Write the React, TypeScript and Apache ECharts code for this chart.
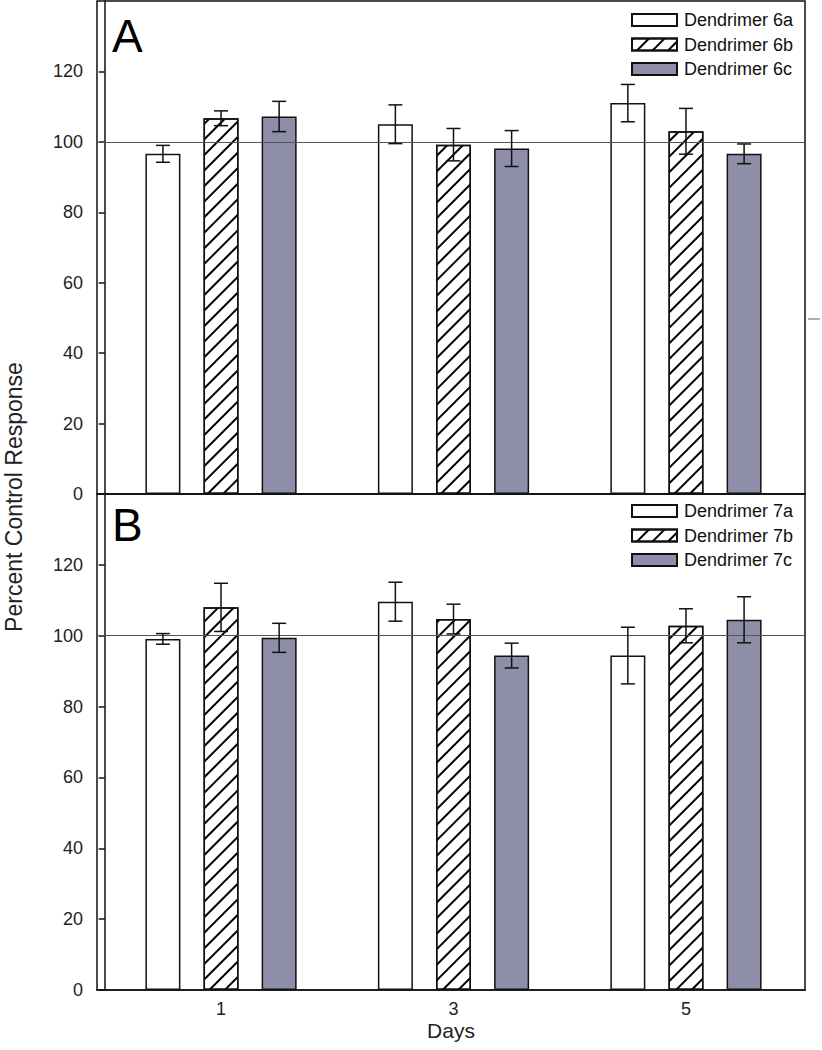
import React, { useEffect, useRef } from "react";
import * as echarts from "echarts";

// ---- data ----
const days = [1, 3, 5];
const dayTickLabels = [1, 3, 5];
const yTickMax = 140;
const yTickStep = 20;
const referenceLevel = 100;

const namesA = ["Dendrimer 6a", "Dendrimer 6b", "Dendrimer 6c"];
const namesB = ["Dendrimer 7a", "Dendrimer 7b", "Dendrimer 7c"];

const d6a = [96.6, 105.0, 111.0];
const d6aErr = [2.4, 5.5, 5.3];
const d6b = [106.7, 99.2, 103.0];
const d6bErr = [2.1, 4.6, 6.5];
const d6c = [107.2, 98.1, 96.6];
const d6cErr = [4.3, 5.1, 2.8];

const d7a = [99.1, 109.6, 94.4];
const d7aErr = [1.5, 5.5, 8.0];
const d7b = [108.0, 104.7, 102.8];
const d7bErr = [6.8, 4.2, 4.8];
const d7c = [99.4, 94.4, 104.5];
const d7cErr = [4.1, 3.5, 6.5];

// ---- layout / style ----
const FONT = "'Liberation Sans', Arial, sans-serif";
const X_MIN = -0.067;
const X_MAX = 6.024;
const OFFSETS = [-0.5, 0, 0.5];
const FILLS = ["#ffffff", "#ffffff", "#8e8ea8"];
const INK = "#111111";

const hatch = {
  symbol: "rect",
  symbolSize: 1,
  dashArrayX: [1, 0],
  dashArrayY: [1.6, 9],
  rotation: -Math.PI / 4,
  color: "#000000",
};

function barSeries(name: string, values: number[], idx: number, g: number, withLine: boolean) {
  const itemStyle: any = { color: FILLS[idx], borderColor: INK, borderWidth: 1.5 };
  if (idx === 1) itemStyle.decal = hatch;
  const s: any = {
    type: "bar",
    name,
    xAxisIndex: g,
    yAxisIndex: g,
    barWidth: 35,
    barGap: "-100%",
    data: values.map((v, i) => [days[i] + OFFSETS[idx], v]),
    itemStyle,
    emphasis: { disabled: true },
    z: 2,
  };
  if (withLine) {
    s.markLine = {
      silent: true,
      symbol: "none",
      label: { show: false },
      lineStyle: { color: "#555", width: 1, type: "solid" },
      data: [{ yAxis: referenceLevel }],
      z: 4,
    };
  }
  return s;
}

function errSeries(values: number[], errs: number[], idx: number, g: number) {
  return {
    type: "custom",
    xAxisIndex: g,
    yAxisIndex: g,
    silent: true,
    z: 5,
    encode: { x: 0, y: 1 },
    data: values.map((v, i) => [days[i] + OFFSETS[idx], v, errs[i]]),
    renderItem: (_p: any, api: any) => {
      const x = api.value(0);
      const y = api.value(1);
      const e = api.value(2);
      const top = api.coord([x, y + e]);
      const bot = api.coord([x, y - e]);
      const hw = 7;
      const style = { stroke: INK, lineWidth: 1.5 };
      return {
        type: "group",
        children: [
          { type: "line", shape: { x1: top[0], y1: top[1], x2: bot[0], y2: bot[1] }, style },
          { type: "line", shape: { x1: top[0] - hw, y1: top[1], x2: top[0] + hw, y2: top[1] }, style },
          { type: "line", shape: { x1: bot[0] - hw, y1: bot[1], x2: bot[0] + hw, y2: bot[1] }, style },
        ],
      };
    },
  };
}

function yAxis(g: number) {
  return {
    type: "value",
    gridIndex: g,
    min: 0,
    max: yTickMax,
    interval: yTickStep,
    axisLine: { show: true, lineStyle: { color: INK, width: 1.5 } },
    axisTick: { show: true, length: 6, lineStyle: { color: INK, width: 1.5 } },
    axisLabel: { showMaxLabel: false, margin: 14, fontFamily: FONT, fontSize: 18, color: "#222" },
    splitLine: { show: false },
  };
}

function xAxis(g: number, labels: boolean) {
  const ax: any = {
    type: "value",
    gridIndex: g,
    min: X_MIN,
    max: X_MAX,
    axisLine: { show: true, onZero: false, lineStyle: { color: INK, width: 1.5 } },
    axisTick: { show: false },
    splitLine: { show: false },
    axisLabel: labels
      ? { show: true, customValues: dayTickLabels, margin: 10, fontFamily: FONT, fontSize: 18, color: "#222" }
      : { show: false },
  };
  if (labels) {
    ax.name = "Days";
    ax.nameLocation = "middle";
    ax.nameGap = 30;
    ax.nameTextStyle = { fontFamily: FONT, fontSize: 21, color: "#222" };
  }
  return ax;
}

function legend(names: string[], top: number) {
  return {
    data: names,
    orient: "vertical",
    left: 626,
    top,
    itemWidth: 45,
    itemHeight: 12,
    itemGap: 4.5,
    icon: "rect",
    selectedMode: false,
    textStyle: { fontFamily: FONT, fontSize: 18, lineHeight: 20, color: "#111", padding: [0, 0, 0, 2] },
  };
}

export default function App() {
  const ref = useRef<HTMLDivElement>(null);
  useEffect(() => {
    if (!ref.current) return;
    const chart = echarts.init(ref.current, null, { renderer: "svg" });
    const gridStyle = { show: true, borderColor: INK, borderWidth: 1.5, backgroundColor: "transparent" };
    chart.setOption({
      animation: false,
      backgroundColor: "#ffffff",
      grid: [
        { left: 97, top: 1, width: 708, height: 493, ...gridStyle },
        { left: 97, top: 494, width: 708, height: 496, ...gridStyle },
      ],
      xAxis: [xAxis(0, false), xAxis(1, true)],
      yAxis: [yAxis(0), yAxis(1)],
      legend: [legend(namesA, 5), legend(namesB, 496)],
      series: [
        barSeries(namesA[0], d6a, 0, 0, true),
        barSeries(namesA[1], d6b, 1, 0, false),
        barSeries(namesA[2], d6c, 2, 0, false),
        errSeries(d6a, d6aErr, 0, 0),
        errSeries(d6b, d6bErr, 1, 0),
        errSeries(d6c, d6cErr, 2, 0),
        barSeries(namesB[0], d7a, 0, 1, true),
        barSeries(namesB[1], d7b, 1, 1, false),
        barSeries(namesB[2], d7c, 2, 1, false),
        errSeries(d7a, d7aErr, 0, 1),
        errSeries(d7b, d7bErr, 1, 1),
        errSeries(d7c, d7cErr, 2, 1),
      ],
      graphic: [
        {
          type: "text",
          x: 14,
          y: 497,
          rotation: Math.PI / 2,
          style: {
            text: "Percent Control Response",
            fontFamily: FONT,
            fontSize: 23,
            fill: "#222",
            textAlign: "center",
            textVerticalAlign: "middle",
          },
        },
        {
          type: "text",
          x: 112,
          y: 36,
          style: { text: "A", fontFamily: FONT, fontSize: 46, fill: "#000", textAlign: "left", textVerticalAlign: "middle" },
        },
        {
          type: "text",
          x: 112,
          y: 525,
          style: { text: "B", fontFamily: FONT, fontSize: 46, fill: "#000", textAlign: "left", textVerticalAlign: "middle" },
        },
        {
          type: "line",
          shape: { x1: 808, y1: 319, x2: 820, y2: 319 },
          style: { stroke: "#777", lineWidth: 1.2 },
        },
      ],
    });
    return () => chart.dispose();
  }, []);
  return <div ref={ref} style={{ position: "absolute", left: 0, top: 0, width: 822, height: 1050 }} />;
}
